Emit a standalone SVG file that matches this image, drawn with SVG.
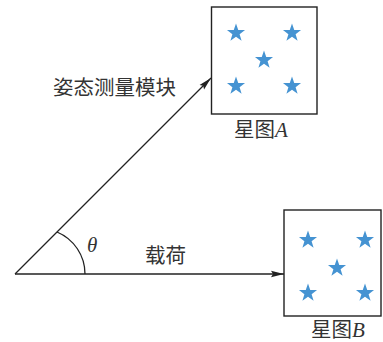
<svg xmlns="http://www.w3.org/2000/svg" xmlns:xlink="http://www.w3.org/1999/xlink" width="383" height="342" viewBox="0 0 383 342">
<style>
.ln{stroke:#222;stroke-width:1.3;fill:none}
.box{stroke:#222;stroke-width:1.4;fill:#fff}
.cn{font-family:"Noto Sans CJK SC","Noto Sans",sans-serif;font-size:20.5px;fill:#333}
.it{font-family:"Liberation Serif",serif;font-style:italic;font-size:21px;fill:#333}
.star{fill:#4593d2}
</style>
<defs>
<path id="st" class="star" d="M0,-9.5 L2.24,-3.07 L9.03,-2.94 L3.61,1.17 L5.58,7.69 L0,3.8 L-5.58,7.69 L-3.61,1.17 L-9.03,-2.94 L-2.24,-3.07 Z"/>
<marker id="ah" markerWidth="14" markerHeight="8" refX="13" refY="4" orient="auto" markerUnits="userSpaceOnUse">
<path d="M0,0.8 L13,4 L0,7.2 L2,4 Z" fill="#222"/>
</marker>
</defs>
<rect width="383" height="342" fill="#fff"/>
<g id="starA">
<rect class="box" x="211.5" y="7" width="105.5" height="107"/>
<use xlink:href="#st" x="236" y="33"/>
<use xlink:href="#st" x="292" y="33"/>
<use xlink:href="#st" x="264" y="60"/>
<use xlink:href="#st" x="236" y="86"/>
<use xlink:href="#st" x="292" y="86"/>
<text class="cn" x="234" y="137">星图<tspan class="it">A</tspan></text>
</g>
<g id="starB">
<rect class="box" x="284" y="210" width="97" height="106"/>
<use xlink:href="#st" x="308" y="240"/>
<use xlink:href="#st" x="365" y="240"/>
<use xlink:href="#st" x="337" y="268"/>
<use xlink:href="#st" x="308" y="293"/>
<use xlink:href="#st" x="365" y="293"/>
<text class="cn" x="311" y="337">星图<tspan class="it">B</tspan></text>
</g>
<g id="connectors">
<line class="ln" x1="15" y1="274" x2="211" y2="78" marker-end="url(#ah)"/>
<line class="ln" x1="15" y1="274" x2="284" y2="274" marker-end="url(#ah)"/>
<path class="ln" d="M57,232 A45.5,45.5 0 0 1 85,274"/>
</g>
<g id="labels">
<text class="cn" x="53" y="95">姿态测量模块</text>
<text class="cn" x="145" y="263">载荷</text>
<text class="it" x="87" y="252">θ</text>
</g>
</svg>
